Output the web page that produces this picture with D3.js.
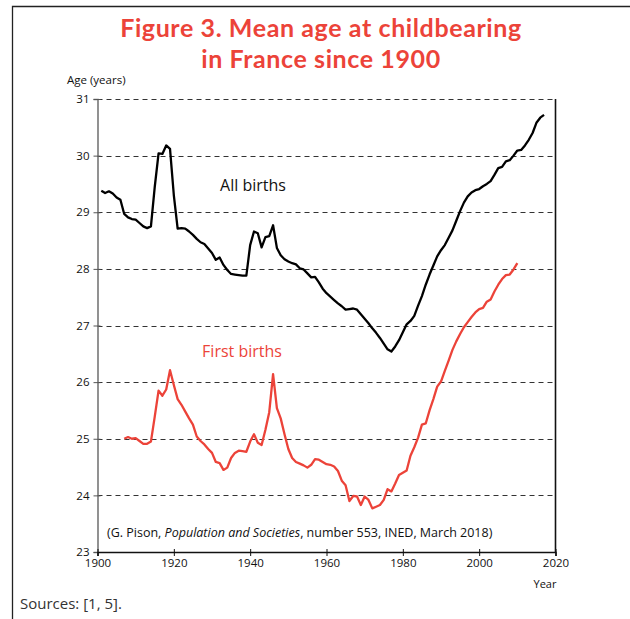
<!DOCTYPE html>
<html lang="en">
<head>
  <meta charset="UTF-8">
  <title>Mean age at childbearing in France since 1900</title>
  <script src="https://d3js.org/d3.v7.min.js"></script>
  <style>
    body { margin: 0; background: #fff; }
    svg { display: block; }
  </style>
</head>
<body>

<script>
  // Values
  const allYears = d3.range(1901, 2018);
  const allAges = [
    29.38, 29.34, 29.37, 29.33, 29.26, 29.22, 28.97, 28.91, 28.88, 28.87,
    28.81, 28.75, 28.72, 28.75, 29.45, 30.04, 30.03, 30.18, 30.12, 29.30,
    28.71, 28.72, 28.71, 28.66, 28.60, 28.53, 28.47, 28.44, 28.36, 28.28,
    28.16, 28.20, 28.07, 27.98, 27.91, 27.90, 27.89, 27.88, 27.88, 28.42,
    28.66, 28.63, 28.38, 28.56, 28.58, 28.77, 28.37, 28.24, 28.17, 28.13,
    28.10, 28.08, 28.01, 27.99, 27.92, 27.85, 27.86, 27.76, 27.65, 27.57,
    27.51, 27.45, 27.39, 27.34, 27.28, 27.29, 27.30, 27.28, 27.20, 27.12,
    27.04, 26.95, 26.87, 26.78, 26.68, 26.58, 26.54, 26.63, 26.74, 26.88,
    27.02, 27.08, 27.17, 27.35, 27.52, 27.72, 27.90, 28.06, 28.22, 28.33,
    28.42, 28.55, 28.68, 28.85, 29.02, 29.17, 29.28, 29.35, 29.39, 29.41,
    29.46, 29.50, 29.55, 29.66, 29.78, 29.80, 29.90, 29.92, 30.00, 30.09,
    30.10, 30.18, 30.28, 30.40, 30.58, 30.67, 30.72
  ];

  const firstYears = d3.range(1907, 2011);
  const firstAges = [
    25.00, 25.03, 25.00, 25.01, 24.96, 24.91, 24.91, 24.95, 25.39, 25.85,
    25.76, 25.87, 26.21, 25.95, 25.70, 25.60, 25.48, 25.36, 25.25, 25.04,
    24.96, 24.90, 24.82, 24.75, 24.59, 24.57, 24.45, 24.49, 24.66, 24.75,
    24.79, 24.78, 24.77, 24.95, 25.08, 24.93, 24.89, 25.16, 25.47, 26.14,
    25.54, 25.36, 25.08, 24.82, 24.66, 24.59, 24.56, 24.53, 24.49, 24.54,
    24.64, 24.63, 24.59, 24.55, 24.54, 24.51, 24.43, 24.26, 24.18, 23.90,
    23.99, 23.98, 23.83, 23.98, 23.92, 23.77, 23.80, 23.83, 23.92, 24.11,
    24.07, 24.21, 24.36, 24.40, 24.44, 24.70, 24.85, 25.02, 25.25, 25.27,
    25.50, 25.70, 25.92, 26.01, 26.20, 26.38, 26.57, 26.72, 26.85, 26.97,
    27.06, 27.15, 27.23, 27.29, 27.31, 27.42, 27.46, 27.60, 27.72, 27.82,
    27.89, 27.90, 27.99, 28.10
  ];

  const yTicks = [23, 24, 25, 26, 27, 28, 29, 30, 31];
  const xTicks = [1900, 1920, 1940, 1960, 1980, 2000, 2020];
  const titleLines = ['Figure 3. Mean age at childbearing', 'in France since 1900'];

  const width = 630;
  const height = 619;
  const red = '#ec4339';
  const labelFont = '"Open Sans", "Liberation Sans", sans-serif';

  const svg = d3.select('body').append('svg')
    .attr('width', width)
    .attr('height', height);

  // outer figure frame (left and top only are visible)
  svg.append('path')
    .attr('d', 'M12.5,' + height + 'V6.5H' + width)
    .attr('fill', 'none')
    .attr('stroke', '#222')
    .attr('stroke-width', 1.3);

  // title, two lines
  svg.selectAll('.title')
    .data(titleLines)
    .enter().append('text')
    .attr('class', 'title')
    .attr('x', 321)
    .attr('y', (d, i) => 37 + i * 31)
    .attr('text-anchor', 'middle')
    .attr('fill', red)
    .style('font-family', 'Lato, "Open Sans", sans-serif')
    .style('font-weight', 700)
    .style('font-size', '25px')
    .style('letter-spacing', '0.6px')
    .text(d => d);

  const x = d3.scaleLinear().domain([1900, 2020]).range([97.5, 555.5]);
  const y = d3.scaleLinear().domain([23, 31]).range([552, 99]);

  // dashed gridlines
  svg.append('g')
    .selectAll('line')
    .data(yTicks.slice(1))
    .enter().append('line')
    .attr('x1', x(1900))
    .attr('x2', x(2020))
    .attr('y1', d => Math.round(y(d)) + 0.5)
    .attr('y2', d => Math.round(y(d)) + 0.5)
    .attr('stroke', '#333')
    .attr('stroke-width', 1)
    .attr('stroke-dasharray', '5,4');

  // y axis
  const yAxis = svg.append('g')
    .attr('transform', 'translate(' + x(1900) + ',0)')
    .call(d3.axisLeft(y).tickValues(yTicks).tickSize(4).tickPadding(4).tickFormat(d3.format('d')));
  yAxis.select('.domain').attr('stroke', '#777').attr('stroke-width', 1.6);
  yAxis.selectAll('.tick line').attr('stroke', '#555').attr('x2', 3).attr('x1', -4);
  yAxis.selectAll('.tick text')
    .style('font-family', labelFont)
    .style('font-size', '11.5px')
    .attr('fill', '#111');

  // x axis
  const xAxis = svg.append('g')
    .attr('transform', 'translate(0,' + y(23) + ')')
    .call(d3.axisBottom(x).tickValues(xTicks).tickSize(4).tickPadding(3).tickFormat(d3.format('d')));
  xAxis.select('.domain').attr('stroke', '#111').attr('stroke-width', 1.6);
  xAxis.selectAll('.tick line').attr('stroke', '#111').attr('y1', -3);
  xAxis.selectAll('.tick text')
    .style('font-family', labelFont)
    .style('font-size', '11.5px')
    .attr('fill', '#111');

  // right border of the plot
  svg.append('line')
    .attr('x1', x(2020)).attr('x2', x(2020))
    .attr('y1', y(31)).attr('y2', y(23))
    .attr('stroke', '#111')
    .attr('stroke-width', 1.6);

  // axis titles
  svg.append('text')
    .attr('x', 67).attr('y', 84)
    .style('font-family', labelFont)
    .style('font-size', '11.5px')
    .attr('fill', '#111')
    .text('Age (years)');
  svg.append('text')
    .attr('x', 545).attr('y', 588)
    .attr('text-anchor', 'middle')
    .style('font-family', labelFont)
    .style('font-size', '11px')
    .attr('fill', '#111')
    .text('Year');

  // lines
  const line = d3.line()
    .x(d => x(d[0]))
    .y(d => y(d[1]));

  svg.append('path')
    .datum(allYears.map((yr, i) => [yr, allAges[i]]))
    .attr('d', line)
    .attr('fill', 'none')
    .attr('stroke', '#000')
    .attr('stroke-width', 2.3)
    .attr('stroke-linejoin', 'round');

  svg.append('path')
    .datum(firstYears.map((yr, i) => [yr, firstAges[i]]))
    .attr('d', line)
    .attr('fill', 'none')
    .attr('stroke', red)
    .attr('stroke-width', 2.3)
    .attr('stroke-linejoin', 'round');

  // series labels
  svg.append('text')
    .attr('x', 253).attr('y', 191)
    .attr('text-anchor', 'middle')
    .style('font-family', labelFont)
    .style('font-size', '16px')
    .attr('fill', '#111')
    .text('All births');
  svg.append('text')
    .attr('x', 242).attr('y', 357)
    .attr('text-anchor', 'middle')
    .style('font-family', labelFont)
    .style('font-size', '16px')
    .attr('fill', red)
    .text('First births');

  // source note inside the plot
  const note = svg.append('text')
    .attr('x', 107).attr('y', 537)
    .style('font-family', labelFont)
    .style('font-size', '12.5px')
    .attr('fill', '#111');
  note.append('tspan').text('(G. Pison, ');
  note.append('tspan').style('font-style', 'italic').text('Population and Societies');
  note.append('tspan').text(', number 553, INED, March 2018)');

  svg.append('text')
    .attr('x', 20).attr('y', 609)
    .style('font-family', labelFont)
    .style('font-size', '15px')
    .attr('fill', '#333')
    .text('Sources: [1, 5].');
</script>

</body>
</html>
